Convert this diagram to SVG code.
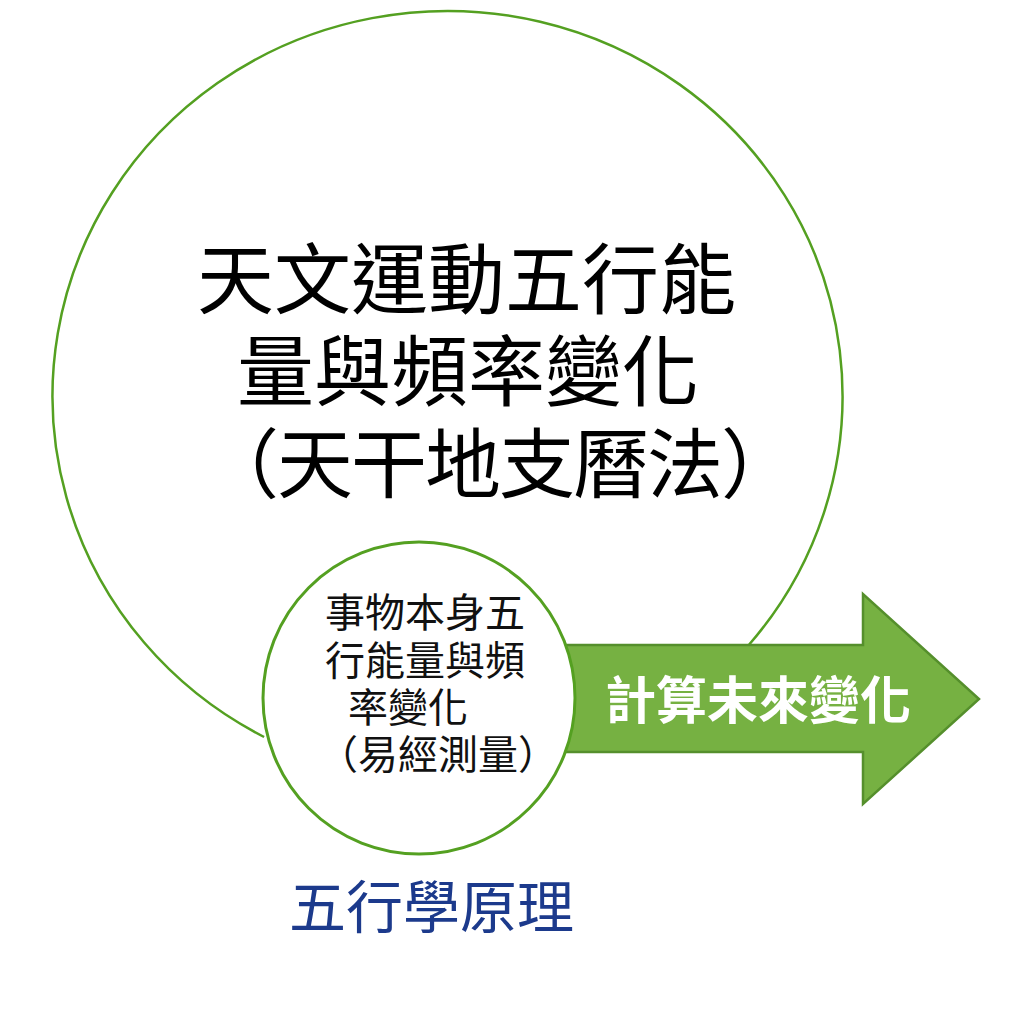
<svg xmlns="http://www.w3.org/2000/svg" width="1024" height="1024" viewBox="0 0 1024 1024">
<style>
.cjk{font-family:"Noto Sans CJK TC","Noto Sans CJK SC",sans-serif;}
.big{font-size:77px;fill:#000;}
.small{font-size:40px;fill:#111;}
.arrowtxt{font-size:51px;font-weight:bold;fill:#fff;}
.label{font-size:57px;fill:#1c3a8c;}
.ring{fill:none;stroke:#54a021;stroke-width:2.5;}
</style>
<rect width="1024" height="1024" fill="#fff"/>
<g id="big-circle">
<path class="ring" d="M 748.8 645 A 395 385 0 1 0 264.1 737"/>
<text class="cjk big"><tspan x="197" y="308">天文運動五行能</tspan><tspan x="237" y="400">量與頻率變化</tspan><tspan x="203" y="492" font-size="76" letter-spacing="-2">（天干地支曆法）</tspan></text>
</g>
<g id="arrow">
<path d="M 540 645 L 863 645 L 863 594 L 979 699 L 863 804 L 863 752 L 540 752 Z" fill="#76b142" stroke="#558f2c" stroke-width="2.5" stroke-linejoin="miter"/>
<text class="cjk arrowtxt" x="758" y="719" text-anchor="middle">計算未來變化</text>
</g>
<g id="small-circle">
<circle cx="419" cy="698" r="156" fill="#fff" stroke="#54a021" stroke-width="3"/>
<text class="cjk small"><tspan x="325" y="627">事物本身五</tspan><tspan x="325" y="675">行能量與頻</tspan><tspan x="348" y="722">率變化</tspan><tspan x="318" y="769">（易經測量）</tspan></text>
</g>
<g id="label">
<text class="cjk label" x="289" y="928">五行學原理</text>
</g>
<g id="connectors"></g>
</svg>
